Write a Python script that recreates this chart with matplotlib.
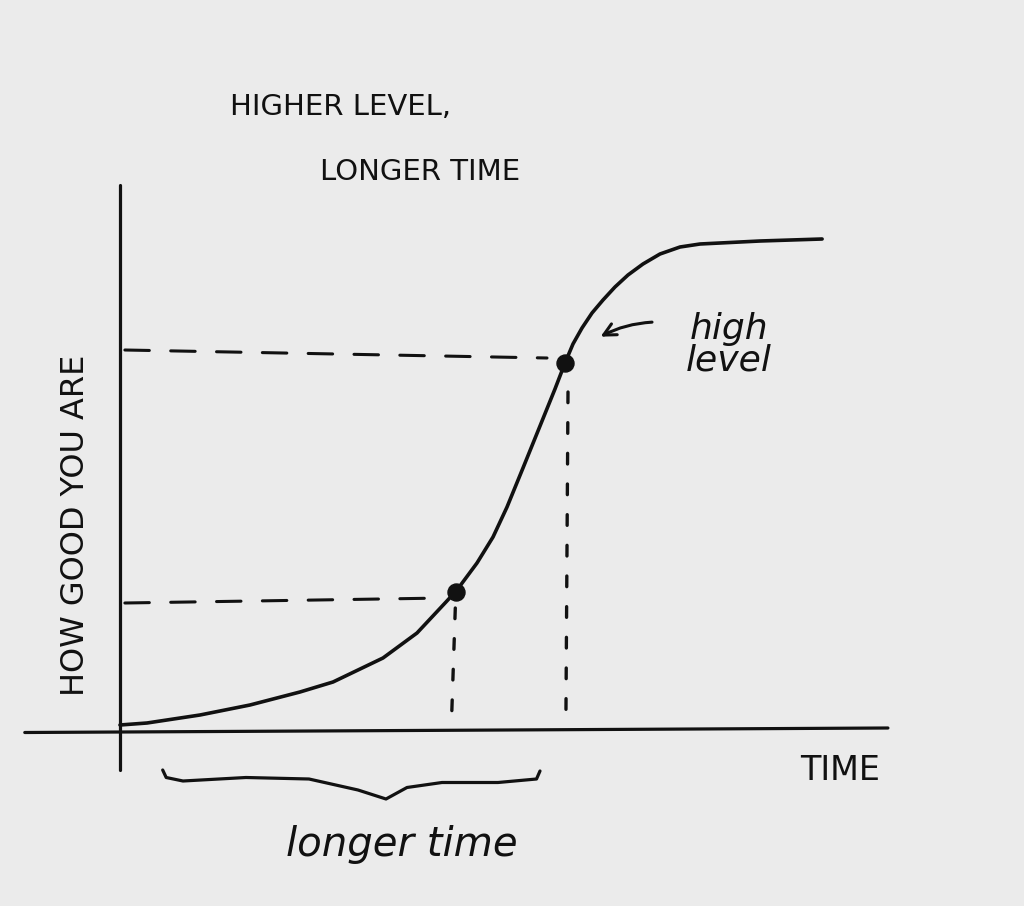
import matplotlib

matplotlib.use("Agg")
from matplotlib import pyplot as plt

# curve: time vs. how good you are (arbitrary units)
time = [0.0, 0.386, 1.143, 1.857, 2.571, 3.043, 3.757, 4.243, 4.657, 4.814,
        5.1, 5.329, 5.529, 5.757, 6.0, 6.214, 6.357, 6.471, 6.6, 6.743,
        6.9, 7.071, 7.257, 7.471, 7.714, 8.0, 8.286, 9.143, 10.03]
skill = [0.10, 0.14, 0.30, 0.50, 0.76, 0.96, 1.44, 1.94, 2.56, 2.80,
         3.34, 3.86, 4.46, 5.24, 6.08, 6.82, 7.34, 7.72, 8.04, 8.34,
         8.6, 8.86, 9.1, 9.32, 9.52, 9.66, 9.72, 9.78, 9.82]

# the two marked points on the curve
mark_time = [4.8, 6.357]
mark_skill = [2.76, 7.34]

# hand-drawn guide lines: horizontal dashes (left s, right s, right t)
hguide_t = [4.64, 6.1]
hguide_s_left = [2.54, 7.6]
hguide_s_right = [2.64, 7.44]
# vertical dots (top t, bottom t, top s, bottom s)
vguide_t_top = [4.79, 6.4]
vguide_t_bot = [4.74, 6.37]
vguide_s_top = [2.44, 6.76]
vguide_s_bot = [0.36, 0.2]

# brace under the "longer time" span
brace_t = [0.61, 0.66, 0.9, 1.8, 2.7, 3.4, 3.8, 4.1, 4.6, 5.4, 5.95, 6.0]
brace_s = [-0.8, -0.95, -1.02, -0.95, -0.98, -1.2, -1.38, -1.15, -1.05, -1.05, -0.98, -0.82]

BG = "#ebebeb"
INK = "#111111"

fig = plt.figure(figsize=(10.24, 9.06), dpi=100, facecolor=BG)
ax = fig.add_axes([0, 0, 1, 1])
ax.set_facecolor(BG)
ax.set_xlim(-1.714, 12.914)
ax.set_ylim(-3.52, 14.6)
ax.axis("off")

# axes drawn by hand
ax.plot([-1.36, 10.97], [-0.05, 0.04], color=INK, lw=2.3, solid_capstyle="round")
ax.plot([0, 0], [-0.8, 10.9], color=INK, lw=2.3, solid_capstyle="round")

# guide lines to the marked points
for i in range(2):
    ax.plot([0.07, hguide_t[i]], [hguide_s_left[i], hguide_s_right[i]],
            color=INK, lw=2.2, dashes=(8, 7), dash_capstyle="round")
    ax.plot([vguide_t_top[i], vguide_t_bot[i]], [vguide_s_top[i], vguide_s_bot[i]],
            color=INK, lw=2.4, dashes=(3.2, 6), dash_capstyle="round")

ax.plot(time, skill, color=INK, lw=2.6, solid_joinstyle="round",
        solid_capstyle="round")
ax.scatter(mark_time, mark_skill, s=150, color=INK, zorder=5)

ax.plot(brace_t, brace_s, color=INK, lw=2.3, solid_joinstyle="round",
        solid_capstyle="round")

hand = dict(color=INK, family="DejaVu Sans")
ax.text(1.57, 12.3, "HIGHER LEVEL,", fontsize=21, ha="left", va="baseline", **hand)
ax.text(2.86, 11.0, "LONGER TIME", fontsize=21, ha="left", va="baseline", **hand)
ax.text(-0.64, 4.1, "HOW GOOD YOU ARE", fontsize=23, rotation=90,
        ha="center", va="center", **hand)
ax.text(9.71, -0.8, "TIME", fontsize=24, ha="left", va="center", **hand)
ax.text(4.02, -2.3, "longer time", fontsize=29, ha="center", va="center",
        style="italic", **hand)
ax.text(8.7, 7.7, "high\nlevel", fontsize=26, ha="center", va="center",
        style="italic", linespacing=0.9, **hand)

ax.annotate("", xy=(6.83, 7.84), xytext=(7.64, 8.16),
            arrowprops=dict(arrowstyle="->", color=INK, lw=2.2,
                            mutation_scale=22,
                            connectionstyle="arc3,rad=0.12"))

fig.savefig("out.png", dpi=100, facecolor=BG)
